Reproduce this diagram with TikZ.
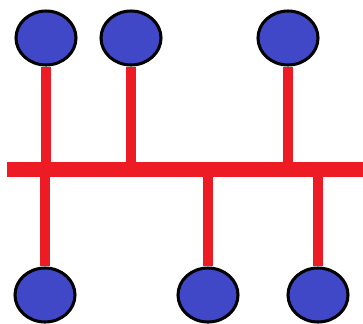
\documentclass[tikz,border=0pt]{standalone}
\usetikzlibrary{shapes.geometric}
\definecolor{busred}{RGB}{237,28,36}
\definecolor{ballblue}{RGB}{64,72,200}
\begin{document}
\begin{tikzpicture}[x=.03cm,y=-.03cm,line cap=butt,line join=miter]
            \useasboundingbox (0,0) rectangle (363,323);
            \tikzset{ball/.style={ellipse,draw=black,line width=2.6pt,fill=ballblue,
                    minimum width=60*.03cm,minimum height=54*.03cm,inner sep=0pt},
                stub/.style={busred,line width=7.7pt}}
            \node[ball] (t1) at (46,38) {};
            \node[ball] (t2) at (131,38) {};
            \node[ball] (t3) at (288,38) {};
            \node[ball] (b1) at (45,295) {};
            \node[ball] (b2) at (208,295) {};
            \node[ball] (b3) at (318,295) {};
            \coordinate (busL) at (7,169.5);
            \coordinate (busR) at (363,169.5);
            \draw[busred,line width=12.8pt] (busL)--(busR);
            \draw[stub] (t1.south)--(t1.south|-busL)
            (t2.south)--(t2.south|-busL)
            (t3.south)--(t3.south|-busL)
            (b1.north)--(b1.north|-busL)
            (b2.north)--(b2.north|-busL)
            (b3.north)--(b3.north|-busL);
    \end{tikzpicture}
\end{document}
